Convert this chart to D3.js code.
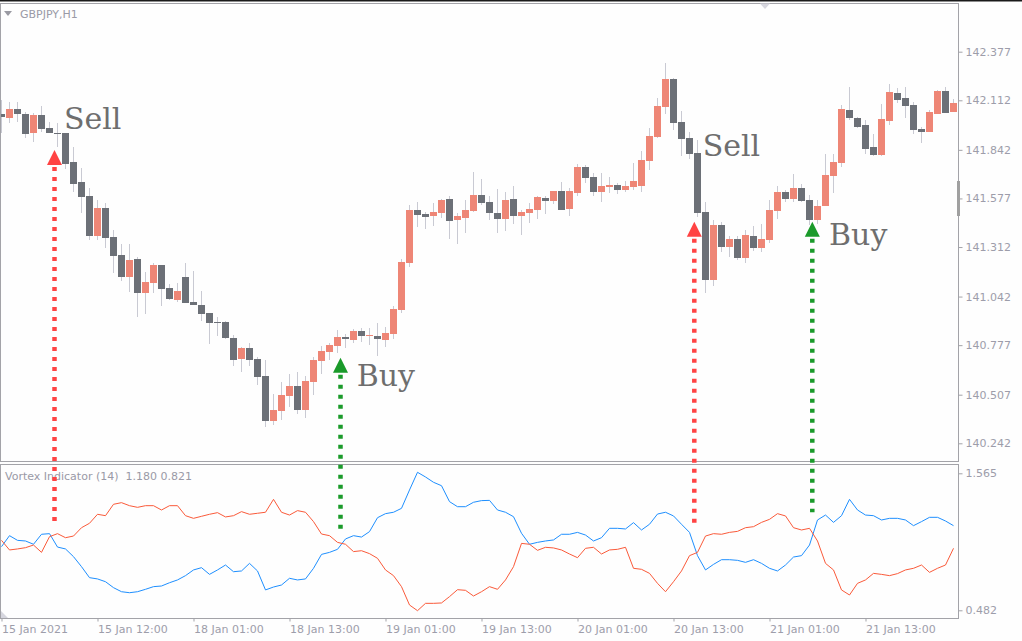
<!DOCTYPE html>
<html><head><meta charset="utf-8">
<script src="https://cdn.jsdelivr.net/npm/d3@7"></script>
<style>html,body{margin:0;padding:0;background:#fff;} svg{display:block;}</style>
</head><body><svg id="c" width="1022" height="641"></svg>
<script>
// ---- DATA ----
const symbolLabel = "GBPJPY,H1";
const indicatorLabel = "Vortex Indicator (14)  1.180 0.821";
const open = [142.036,142.017,142.065,142.036,141.935,142.032,141.961,141.934,141.934,141.776,
141.667,141.590,141.374,141.525,141.367,141.269,141.150,141.247,141.063,141.118,
141.214,141.089,141.023,141.149,141.012,140.996,140.952,140.902,140.903,140.816,
140.703,140.763,140.703,140.610,140.365,140.420,140.501,140.556,140.425,140.578,
140.692,140.741,140.774,140.822,140.805,140.854,140.829,140.827,140.807,140.839,
140.970,141.227,141.514,141.492,141.483,141.499,141.574,141.461,141.472,141.510,
141.596,141.558,141.498,141.465,141.574,141.483,141.499,141.516,141.579,141.565,
141.618,141.521,141.608,141.748,141.694,141.614,141.641,141.650,141.625,141.641,
141.646,141.783,141.914,142.077,142.228,141.994,141.908,141.826,141.503,141.132,
141.432,141.314,141.356,141.254,141.372,141.308,141.350,141.510,141.612,141.576,
141.634,141.568,141.459,141.537,141.701,141.772,142.059,142.017,141.977,141.859,
141.815,142.001,142.152,142.125,142.086,141.957,141.941,142.039,142.164,142.050];
const close = [142.019,142.065,142.036,141.930,142.032,141.957,141.935,141.932,141.766,141.657,
141.587,141.374,141.525,141.363,141.265,141.150,141.241,141.063,141.123,141.214,
141.085,141.029,141.074,141.009,140.998,140.949,140.899,140.901,140.816,140.698,
140.763,140.698,140.605,140.365,140.423,140.507,140.556,140.425,140.583,140.698,
140.747,140.780,140.822,140.812,140.854,140.829,140.832,140.812,140.843,140.974,
141.230,141.514,141.488,141.477,141.503,141.568,141.456,141.481,141.514,141.596,
141.554,141.499,141.465,141.568,141.483,141.503,141.519,141.585,141.565,141.618,
141.516,141.618,141.748,141.690,141.614,141.645,141.650,141.625,141.645,141.672,
141.787,141.917,142.081,142.228,141.990,141.903,141.821,141.499,141.132,141.432,
141.314,141.356,141.254,141.378,141.308,141.356,141.514,141.612,141.576,141.634,
141.565,141.459,141.536,141.705,141.776,142.065,142.017,141.968,141.848,141.815,
142.012,142.157,142.115,142.083,141.952,141.941,142.050,142.164,142.044,142.097];
const high = [142.114,142.104,142.104,142.050,142.043,142.081,141.995,141.990,141.936,141.859,
141.741,141.634,141.569,141.550,141.405,141.329,141.329,141.256,141.178,141.227,
141.216,141.111,141.118,141.223,141.183,141.074,140.953,140.929,140.910,140.832,
140.769,140.787,140.714,140.696,140.512,140.576,140.621,140.632,140.610,140.714,
140.774,140.790,140.860,140.838,140.865,140.871,140.871,140.898,140.878,140.991,
141.247,141.541,141.558,141.503,141.552,141.576,141.590,141.499,141.568,141.721,
141.683,141.590,141.628,141.612,141.645,141.514,141.552,141.590,141.590,141.620,
141.667,141.634,141.765,141.759,141.716,141.716,141.694,141.661,141.672,141.770,
141.836,141.961,142.125,142.315,142.234,142.054,141.941,141.896,141.559,141.459,
141.448,141.372,141.372,141.405,141.427,141.438,141.568,141.645,141.623,141.710,
141.656,141.596,141.568,141.819,141.819,142.087,142.185,142.023,142.005,141.930,
142.094,142.201,142.179,142.185,142.103,141.968,142.059,142.168,142.183,142.121];
const low = [141.934,141.987,141.995,141.905,141.886,141.941,141.932,141.859,141.738,141.614,
141.496,141.350,141.350,141.308,141.169,141.127,141.069,140.932,140.947,141.063,
140.991,141.023,141.014,141.005,140.996,140.910,140.783,140.827,140.809,140.665,
140.632,140.665,140.561,140.332,140.343,140.369,140.441,140.400,140.381,140.507,
140.621,140.698,140.736,140.763,140.790,140.796,140.780,140.720,140.768,140.812,
140.954,141.205,141.423,141.412,141.428,141.472,141.354,141.326,141.390,141.503,
141.541,141.459,141.390,141.401,141.439,141.379,141.445,141.467,141.494,141.548,
141.514,141.483,141.592,141.663,141.592,141.559,141.608,141.603,141.614,141.625,
141.614,141.734,141.908,142.039,141.952,141.810,141.794,141.477,141.060,141.101,
141.283,141.259,141.241,141.223,141.292,141.283,141.334,141.467,141.559,141.559,
141.559,141.432,141.438,141.535,141.608,141.750,142.005,141.961,141.821,141.810,
141.810,141.977,142.097,142.017,141.930,141.881,141.939,142.037,142.043,142.048];
const viPlus = [0.985,1.072,1.035,1.030,1.004,1.083,1.088,0.982,0.967,0.906,
0.827,0.740,0.730,0.708,0.661,0.629,0.621,0.629,0.648,0.669,
0.674,0.700,0.722,0.756,0.801,0.819,0.766,0.801,0.840,0.787,
0.793,0.853,0.793,0.643,0.666,0.682,0.735,0.722,0.730,0.814,
0.924,0.940,0.964,1.046,1.072,1.061,1.104,1.214,1.246,1.257,
1.288,1.433,1.573,1.536,1.494,1.467,1.341,1.301,1.301,1.336,
1.349,1.351,1.275,1.257,1.222,1.091,1.004,1.019,1.030,1.038,
1.083,1.083,1.098,1.077,1.030,1.056,1.130,1.130,1.125,1.175,
1.117,1.162,1.243,1.257,1.228,1.162,1.098,0.914,0.801,0.845,
0.882,0.882,0.877,0.861,0.882,0.853,0.814,0.793,0.840,0.903,
0.914,0.998,1.196,1.235,1.177,1.230,1.359,1.275,1.235,1.230,
1.196,1.209,1.209,1.196,1.151,1.183,1.217,1.217,1.188,1.151];
const viMinus = [1.035,0.959,0.967,0.977,0.998,0.940,1.064,1.088,1.056,1.069,
1.135,1.170,1.241,1.230,1.320,1.333,1.309,1.296,1.309,1.309,
1.275,1.309,1.309,1.230,1.209,1.225,1.241,1.254,1.220,1.230,
1.262,1.241,1.249,1.257,1.359,1.257,1.235,1.270,1.257,1.183,
1.085,1.072,1.019,1.004,0.946,0.953,0.930,0.893,0.801,0.756,
0.669,0.524,0.479,0.537,0.537,0.540,0.590,0.645,0.640,0.595,
0.629,0.669,0.648,0.722,0.827,1.011,1.004,0.956,0.980,0.975,
0.959,0.927,0.898,0.972,0.980,0.927,0.959,0.964,0.980,0.814,
0.806,0.774,0.695,0.629,0.708,0.793,0.914,0.940,1.069,1.088,
1.083,1.098,1.106,1.135,1.143,1.177,1.201,1.246,1.228,1.135,
1.117,1.130,1.030,0.853,0.801,0.643,0.603,0.695,0.722,0.774,
0.766,0.756,0.772,0.801,0.814,0.840,0.782,0.814,0.840,0.972];
const priceTicks = [142.377,142.112,141.842,141.577,141.312,141.042,140.777,140.507,140.242];
const indicatorTicks = [1.565,0.482];
const timeTickBars = [0,12,24,36,48,60,72,84,96,108];
const timeTickLabels = ["15 Jan 2021","15 Jan 12:00","18 Jan 01:00","18 Jan 13:00","19 Jan 01:00",
  "19 Jan 13:00","20 Jan 01:00","20 Jan 13:00","21 Jan 01:00","21 Jan 13:00"];
const signalLabels = ["Sell","Buy","Sell","Buy"];
const signalBars = [6.625,42.375,86.6,101.35];
const signalPrices = [141.841,140.709,141.450,141.450];
const signalVI = [1.143,1.099,1.154,1.257];
const labelBars = [7.81,44.4,87.65,103.44];
const labelPrices = [141.954,140.556,141.810,141.323];

// ---- LAYOUT ----
const svg = d3.select("#c");
const W = 1022, H = 641;
const L = 0.5, R = 958.5, mainTop = 3.5, mainBot = 461.5, indTop = 464.5, indBot = 618.5;
const bullCol = "#ee8676", bearCol = "#6c7077", wickCol = "#c9cad3";
const axisTxt = "#9d9daa", borderCol = "#a3a3a8";

svg.append("rect").attr("width",W).attr("height",H).attr("fill","#fefefe");

const n = open.length;
const x = d3.scaleLinear().domain([0, n-1]).range([1.5, 1.5 + 8*(n-1)]);
const y = d3.scaleLinear().domain([140.242, 142.377]).range([443.3, 51.7]);
const yi = d3.scaleLinear().domain([0.482, 1.565]).range([610.3, 473.3]);
const bodyW = 7;

const defs = svg.append("defs");
defs.append("clipPath").attr("id","cm").append("rect").attr("x",1).attr("y",mainTop+0.5).attr("width",R-1.5).attr("height",mainBot-mainTop-1);
defs.append("clipPath").attr("id","ci").append("rect").attr("x",1).attr("y",indTop+0.5).attr("width",R-1.5).attr("height",indBot-indTop-1);

// top black line
svg.append("rect").attr("x",0).attr("y",0).attr("width",W).attr("height",1.5).attr("fill","#1a1a1a");

// panels borders
svg.append("rect").attr("x",L).attr("y",mainTop).attr("width",R-L).attr("height",mainBot-mainTop).attr("fill","none").attr("stroke",borderCol);
svg.append("rect").attr("x",L).attr("y",indTop).attr("width",R-L).attr("height",indBot-indTop).attr("fill","none").attr("stroke",borderCol);

// candles
const idx = d3.range(n);
const gC = svg.append("g").attr("clip-path","url(#cm)");
gC.selectAll("line.w").data(idx).join("line")
  .attr("x1",i=>x(i)).attr("x2",i=>x(i))
  .attr("y1",i=>Math.round(y(high[i]))).attr("y2",i=>Math.round(y(low[i])))
  .attr("stroke",wickCol).attr("stroke-width",1);
gC.selectAll("rect.b").data(idx).join("rect")
  .attr("x",i=>x(i)-bodyW/2)
  .attr("width",bodyW)
  .attr("y",i=>Math.round(y(Math.max(open[i],close[i]))))
  .attr("height",i=>Math.max(1, Math.round(y(Math.min(open[i],close[i]))) - Math.round(y(Math.max(open[i],close[i])))))
  .attr("fill",i=>close[i] >= open[i] ? bullCol : bearCol);

// indicator lines
const gI = svg.append("g").attr("clip-path","url(#ci)");
const line = d3.line().x((d,i)=>x(i)).y(d=>yi(d));
gI.append("path").attr("d",line(viPlus)).attr("fill","none").attr("stroke","#1e8fff").attr("stroke-width",1);
gI.append("path").attr("d",line(viMinus)).attr("fill","none").attr("stroke","#fa5a3a").attr("stroke-width",1);

// price axis
const ay = svg.append("g").attr("transform",`translate(${R},0)`)
  .call(d3.axisRight(y).tickValues(priceTicks).tickSize(4).tickPadding(3).tickFormat(d3.format(".3f")));
ay.select(".domain").remove();
ay.selectAll(".tick line").attr("stroke",borderCol);
ay.selectAll(".tick text").attr("fill",axisTxt).style("font-family","DejaVu Sans").style("font-size","11px");

const ai = svg.append("g").attr("transform",`translate(${R},0)`)
  .call(d3.axisRight(yi).tickValues(indicatorTicks).tickSize(4).tickPadding(3).tickFormat(d3.format(".3f")));
ai.select(".domain").remove();
ai.selectAll(".tick line").attr("stroke",borderCol);
ai.selectAll(".tick text").attr("fill",axisTxt).style("font-family","DejaVu Sans").style("font-size","11px");

// time axis
const ax = svg.append("g").attr("transform",`translate(0,${indBot})`)
  .call(d3.axisBottom(x).tickValues(timeTickBars).tickSize(3).tickFormat((d,i)=>timeTickLabels[i]));
ax.select(".domain").remove();
ax.selectAll(".tick line").attr("stroke",borderCol);
ax.selectAll(".tick text").attr("fill",axisTxt).attr("text-anchor","start").attr("y",6.5)
  .style("font-family","DejaVu Sans").style("font-size","11px");

// labels
svg.append("path").attr("d","M4,11 L12,11 L8,16 Z").attr("fill","#9a9aa2");
svg.append("text").attr("x",20).attr("y",17.5).text(symbolLabel)
  .attr("fill","#9a9aa6").style("font-family","DejaVu Sans").style("font-size","11px");
svg.append("text").attr("x",5).attr("y",480).text(indicatorLabel).attr("xml:space","preserve")
  .attr("fill","#9a9aa6").style("font-family","DejaVu Sans").style("font-size","11px").style("white-space","pre");

// decorations
svg.append("path").attr("d","M760,3.5 L770,3.5 L765,9 Z").attr("fill","#d6d6de");
svg.append("rect").attr("x",957).attr("y",181).attr("width",3).attr("height",35).attr("fill","#a0a0a0");
svg.append("path").attr("d","M1,611 L1,618 L8,618 Z").attr("fill","#d6d6de");

// signals
const gS = svg.append("g");
idx.slice(0, signalLabels.length).forEach(i=>{
  const col = signalLabels[i] === "Sell" ? "#ff4343" : "#1a9a2a";
  const cx = x(signalBars[i]), ty = y(signalPrices[i]);
  gS.append("line").attr("x1",cx).attr("x2",cx).attr("y1",ty+17).attr("y2",yi(signalVI[i]))
    .attr("stroke",col).attr("stroke-width",4.5).attr("stroke-dasharray","4,6");
  gS.append("path").attr("d",`M${cx},${ty} L${cx+7.5},${ty+15} L${cx-7.5},${ty+15} Z`).attr("fill",col);
  gS.append("text").attr("x",x(labelBars[i])).attr("y",y(labelPrices[i])).text(signalLabels[i])
    .attr("fill","#6e6e6e").style("font-family","DejaVu Serif").style("font-size","30px");
});
</script></body></html>
